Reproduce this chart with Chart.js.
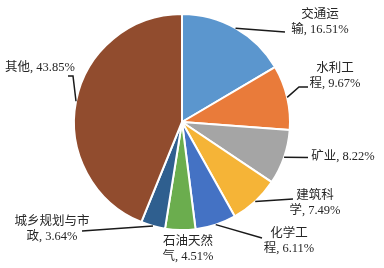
<!DOCTYPE html>
<html><head><meta charset="utf-8">
<script src="https://cdn.jsdelivr.net/npm/chart.js@4"></script>
<style>html,body{margin:0;padding:0;background:#fff;overflow:hidden}#wrap{width:384px;height:268px;position:relative}</style>
</head><body><div id="wrap"><canvas id="c" width="384" height="268"></canvas></div>
<script>
// ---- data ----
const categories = ['交通运输','水利工程','矿业','建筑科学','化学工程','石油天然气','城乡规划与市政','其他'];
const shares = [16.51, 9.67, 8.22, 7.49, 6.11, 4.51, 3.64, 43.85];
// number of name characters on the first label line (null = single line)
const labelBreaks = [3, 3, null, 3, 3, 4, 6, null];

// ---- styles / layout ----
const colors = ['#5B96CE','#E97B3A','#A5A5A5','#F5B437','#4472C4','#6BAD4E','#2F5F8F','#914C2E'];
// label text centre (first line) and leader bend points (leader starts at slice edge)
const labelLayout = [
  {x:320, y:15,  leader:[[285,32]]},
  {x:335, y:69,  leader:[[299,87],[308,87]]},
  {x:343, y:157, leader:[[308,157.5]]},
  {x:315, y:196, leader:[[293,199]]},
  {x:289, y:234, leader:[[262,238]]},
  {x:188, y:242, leader:null},
  {x:52,  y:222, leader:[[82,231]]},
  {x:40,  y:68,  leader:[[73,76],[68,76]]}
];
const FONT = '12.5px "Liberation Serif", "Times New Roman", "Noto Sans CJK SC", serif';
const LINE_H = 15;

function labelText(i){
  const full = categories[i] + ', ' + shares[i].toFixed(2) + '%';
  const b = labelBreaks[i];
  return b == null ? [full] : [full.slice(0,b), full.slice(b)];
}

const labelPlugin = {
  id:'labels',
  afterDraw(chart){
    const ctx = chart.ctx;
    const meta = chart.getDatasetMeta(0);
    ctx.save();
    meta.data.forEach((arc, i) => {
      const p = arc.getProps(['x','y','startAngle','endAngle','outerRadius'], true);
      const mid = (p.startAngle + p.endAngle)/2;
      const ex = p.x + Math.cos(mid)*p.outerRadius;
      const ey = p.y + Math.sin(mid)*p.outerRadius;
      const L = labelLayout[i];
      if (L.leader){
        ctx.beginPath();
        ctx.strokeStyle = '#1a1a1a';
        ctx.lineWidth = 1.5;
        ctx.moveTo(ex, ey);
        L.leader.forEach(pt => ctx.lineTo(pt[0], pt[1]));
        ctx.stroke();
      }
      ctx.fillStyle = '#262626';
      ctx.font = FONT;
      ctx.textAlign = 'center';
      ctx.textBaseline = 'middle';
      labelText(i).forEach((t, k) => ctx.fillText(t, L.x, L.y + k*LINE_H));
    });
    ctx.restore();
  }
};

new Chart(document.getElementById('c'), {
  type:'pie',
  data:{
    labels: categories,
    datasets:[{
      data: shares,
      backgroundColor: colors,
      borderColor:'#ffffff',
      borderWidth:2
    }]
  },
  options:{
    responsive:false,
    animation:false,
    layout:{padding:{left:73, right:93, top:13, bottom:37}},
    plugins:{legend:{display:false}, tooltip:{enabled:false}}
  },
  plugins:[labelPlugin]
});
</script>
</body></html>
